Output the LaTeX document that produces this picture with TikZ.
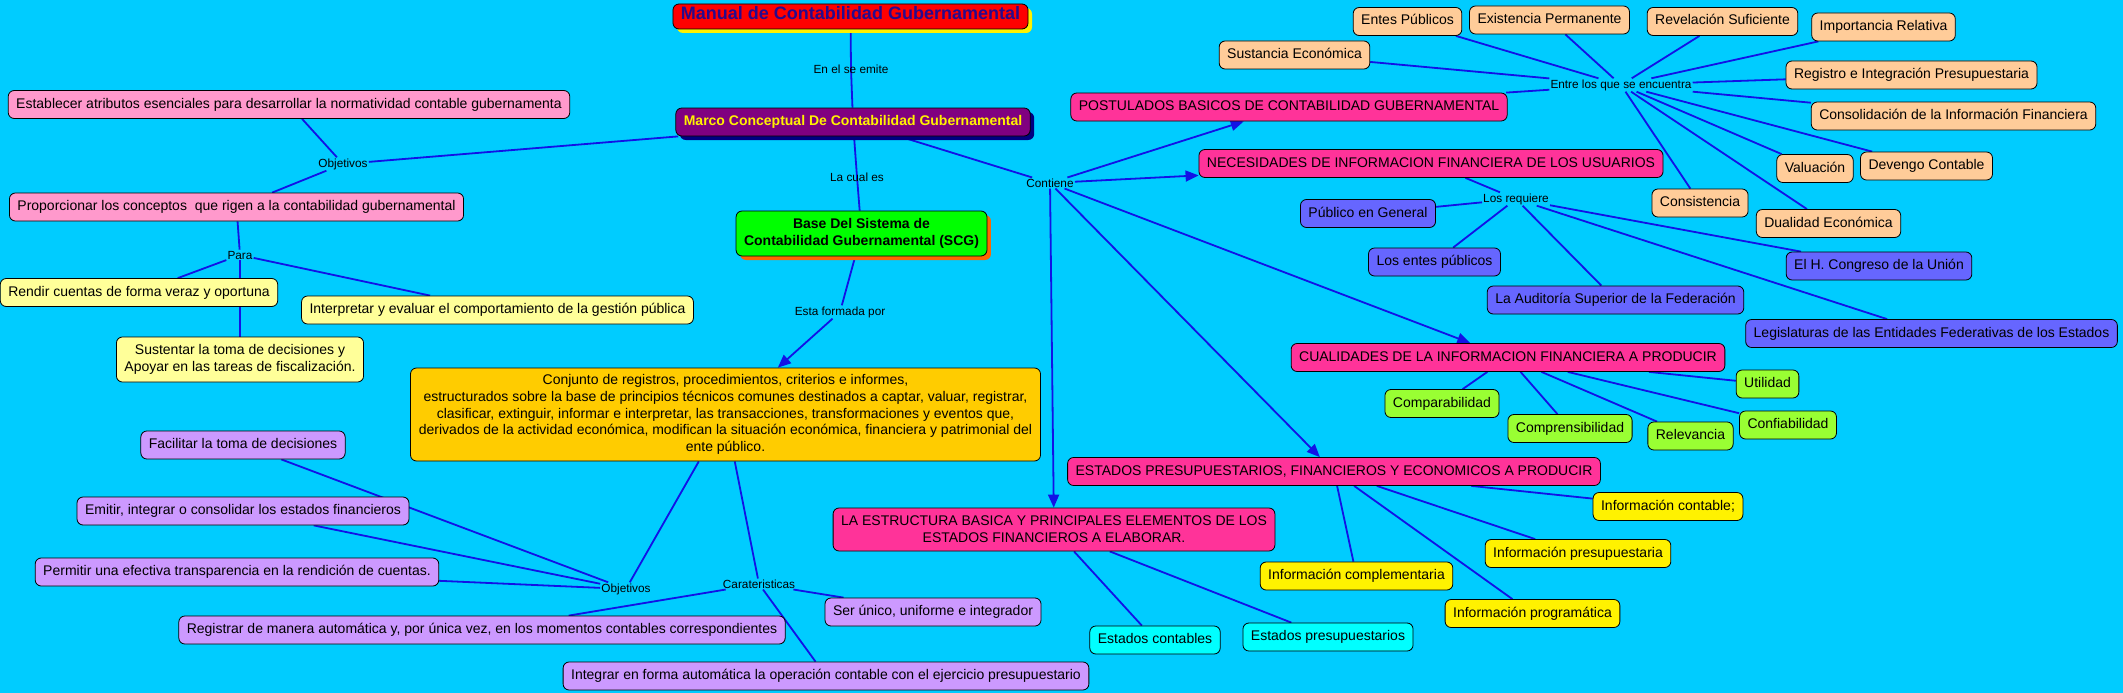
\documentclass[tikz,border=0pt]{standalone}
\usepackage{fontspec}
\setmainfont{Liberation Sans}
\usetikzlibrary{arrows.meta,shadows}
\pgfdeclarelayer{bg}
\pgfdeclarelayer{edges}
\pgfsetlayers{bg,edges,main}
\definecolor{sky}{RGB}{0,204,255}
\definecolor{linkblue}{RGB}{18,18,230}
\definecolor{pinkbox}{RGB}{255,153,204}
\definecolor{paleyel}{RGB}{255,255,153}
\definecolor{lilac}{RGB}{204,153,255}
\definecolor{gold}{RGB}{255,204,0}
\definecolor{hotpink}{RGB}{255,51,153}
\definecolor{peach}{RGB}{255,204,153}
\definecolor{violetbox}{RGB}{102,102,255}
\definecolor{lime}{RGB}{153,255,51}
\definecolor{aqua}{RGB}{0,255,255}
\definecolor{titleblue}{RGB}{40,10,140}
\begin{document}
\begin{tikzpicture}[x=1pt,y=-1pt,
  box/.style={draw=black,line width=0.8pt,rounded corners=6pt,inner xsep=8pt,inner ysep=7pt,
    text height=10.5pt,text depth=3.5pt,font=\fontsize{14}{16.7}\selectfont},
  tallbox/.style={draw=black,line width=0.8pt,rounded corners=6pt,inner xsep=8pt,inner ysep=3pt,
    align=center,font=\fontsize{14}{16.7}\selectfont},
  lbl/.style={inner sep=1pt,font=\fontsize{11.8}{13}\selectfont},
  link/.style={draw=linkblue,line width=1.8pt},
  >={Triangle[length=13pt,width=11pt]}]

\useasboundingbox (0,0) rectangle (2123,693);
\begin{pgfonlayer}{bg}
\fill [sky] (0,0) rectangle (2123,693);
\end{pgfonlayer}

% top of the map
\node (manual) at (850.5,16.5) [box,fill=red,text=titleblue,font=\fontsize{18}{20}\bfseries,inner ysep=5.5pt,
  drop shadow={shadow xshift=4pt,shadow yshift=-4pt,fill=yellow,opacity=1}] {Manual de Contabilidad Gubernamental};
\node (emite) at (851,69) [lbl] {En el se emite};
\node (marco) at (853,122) [box,fill=violet,text=yellow,font=\fontsize{14}{16.7}\bfseries,
  drop shadow={shadow xshift=4pt,shadow yshift=-4pt,fill=blue!50!black,opacity=1}] {Marco Conceptual De Contabilidad Gubernamental};
\node (cuales) at (857,177) [lbl] {La cual es};
\node (base) at (861.5,233.5) [tallbox,fill=green,font=\fontsize{14}{16.7}\bfseries,minimum height=45pt,
  drop shadow={shadow xshift=4pt,shadow yshift=-4pt,fill=orange!80!red,opacity=1}] {Base Del Sistema de\\Contabilidad Gubernamental (SCG)};
\node (formada) at (840,312) [lbl] {Esta formada por};
\node (conjunto) at (725.5,414.5) [tallbox,fill=gold,minimum height=93pt,minimum width=630pt] {Conjunto de registros, procedimientos, criterios e informes,\\estructurados sobre la base de principios técnicos comunes destinados a captar, valuar, registrar,\\clasificar, extinguir, informar e interpretar, las transacciones, transformaciones y eventos que,\\derivados de la actividad económica, modifican la situación económica, financiera y patrimonial del\\ente público.};

% objetivos del marco
\node (objtop) at (343,164) [lbl] {Objetivos};
\node (establecer) at (289,104.5) [box,fill=pinkbox] {Establecer atributos esenciales para desarrollar la normatividad contable gubernamenta};
\node (proporcionar) at (236.5,207) [box,fill=pinkbox] {Proporcionar los conceptos\ \ que rigen a la contabilidad gubernamental};
\node (para) at (240,255) [lbl] {Para};
\node (rendir) at (139,292.5) [box,fill=paleyel] {Rendir cuentas de forma veraz y oportuna};
\node (interpretar) at (497.5,310) [box,fill=paleyel] {Interpretar y evaluar el comportamiento de la gestión pública};
\node (sustentar) at (240,359.5) [tallbox,fill=paleyel,minimum height=45pt] {Sustentar la toma de decisiones y\\Apoyar en las tareas de fiscalización.};

% objetivos y caracteristicas del SCG
\node (objbot) at (626,589) [lbl] {Objetivos};
\node (carac) at (759,584) [lbl] {Carateristicas};
\node (facilitar) at (243,445) [box,fill=lilac] {Facilitar la toma de decisiones~};
\node (emitir) at (243,511) [box,fill=lilac] {Emitir, integrar o consolidar los estados financieros};
\node (permitir) at (237,572) [box,fill=lilac] {Permitir una efectiva transparencia en la rendición de cuentas.};
\node (registrar) at (482,630) [box,fill=lilac] {Registrar de manera automática y, por única vez, en los momentos contables correspondientes};
\node (integrar) at (826,676) [box,fill=lilac] {Integrar en forma automática la operación contable con el ejercicio presupuestario};
\node (serunico) at (933,612) [box,fill=lilac] {Ser único, uniforme e integrador};

% contenido del marco
\node (contiene) at (1050,183) [lbl] {Contiene};
\node (postulados) at (1289,107) [box,fill=hotpink] {POSTULADOS BASICOS DE CONTABILIDAD GUBERNAMENTAL};
\node (necesidades) at (1431,163.5) [box,fill=hotpink] {NECESIDADES DE INFORMACION FINANCIERA DE LOS USUARIOS};
\node (cualidades) at (1508,357.5) [box,fill=hotpink] {CUALIDADES DE LA INFORMACION FINANCIERA A PRODUCIR};
\node (estados) at (1334,471.5) [box,fill=hotpink] {ESTADOS PRESUPUESTARIOS, FINANCIEROS Y ECONOMICOS A PRODUCIR};
\node (estructura) at (1054,529.5) [tallbox,fill=hotpink,minimum height=43pt] {LA ESTRUCTURA BASICA Y PRINCIPALES ELEMENTOS DE LOS\\ESTADOS FINANCIEROS A ELABORAR.};

% postulados
\node (entre) at (1621,85) [lbl] {Entre los que se encuentra};
\node (entes) at (1407.5,21.5) [box,fill=peach] {Entes Públicos};
\node (existencia) at (1549.5,20) [box,fill=peach] {Existencia Permanente};
\node (revelacion) at (1722.5,21.5) [box,fill=peach] {Revelación Suficiente};
\node (importancia) at (1883.5,27) [box,fill=peach] {Importancia Relativa};
\node (registro) at (1911.5,75) [box,fill=peach] {Registro e Integración Presupuestaria};
\node (consolidacion) at (1953.5,116) [box,fill=peach] {Consolidación de la Información Financiera};
\node (sustancia) at (1294.5,55) [box,fill=peach] {Sustancia Económica};
\node (devengo) at (1926.5,166) [box,fill=peach] {Devengo Contable};
\node (valuacion) at (1815,168.5) [box,fill=peach] {Valuación};
\node (dualidad) at (1828.5,223.5) [box,fill=peach] {Dualidad Económica};
\node (consistencia) at (1700,203) [box,fill=peach] {Consistencia};

% usuarios
\node (requiere) at (1516,199) [lbl] {Los requiere};
\node (publico) at (1368,213.5) [box,fill=violetbox] {Público en General};
\node (entespub) at (1434.5,262) [box,fill=violetbox] {Los entes públicos};
\node (auditoria) at (1615.5,300) [box,fill=violetbox] {La Auditoría Superior de la Federación};
\node (congreso) at (1879,266) [box,fill=violetbox] {El H. Congreso de la Unión};
\node (legislaturas) at (1931.5,333.5) [box,fill=violetbox] {Legislaturas de las Entidades Federativas de los Estados};

% cualidades
\node (comparabilidad) at (1442,403.5) [box,fill=lime] {Comparabilidad};
\node (comprensibilidad) at (1570,428.5) [box,fill=lime] {Comprensibilidad};
\node (relevancia) at (1690.5,436) [box,fill=lime] {Relevancia};
\node (confiabilidad) at (1788,425) [box,fill=lime] {Confiabilidad};
\node (utilidad) at (1767.5,384) [box,fill=lime] {Utilidad};

% estados
\node (infcontable) at (1668,506.5) [box,fill=yellow] {Información contable;};
\node (infpresup) at (1578,553.5) [box,fill=yellow] {Información presupuestaria};
\node (infcomp) at (1356.5,576) [box,fill=yellow] {Información complementaria};
\node (infprog) at (1532.5,613.5) [box,fill=yellow] {Información programática};
\node (edoscont) at (1155,640) [box,fill=aqua] {Estados contables};
\node (edospresup) at (1328,637) [box,fill=aqua] {Estados presupuestarios};

\begin{pgfonlayer}{edges}
\draw [link] (manual) -- (emite.center) -- (marco);
\draw [link] (marco) -- (cuales.center) -- (base);
\draw [link] (base) -- (formada);
\draw [link,->] (formada) -- (conjunto);
\draw [link] (marco) -- (objtop);
\draw [link] (establecer) -- (objtop) -- (proporcionar);
\draw [link] (proporcionar) -- (para);
\draw [link] (para) -- (rendir);
\draw [link] (para) -- (interpretar);
\draw [link] (para) -- (sustentar);
\draw [link] (conjunto) -- (objbot);
\draw [link] (conjunto) -- (carac);
\foreach \n in {facilitar,emitir,permitir} \draw [link] (objbot) -- (\n);
\foreach \n in {registrar,integrar,serunico} \draw [link] (carac) -- (\n);
\draw [link] (marco) -- (contiene);
\foreach \n in {postulados,necesidades,cualidades,estados,estructura} \draw [link,->] (contiene) -- (\n);
\draw [link] (postulados) -- (entre);
\foreach \n in {entes,existencia,revelacion,importancia,registro,consolidacion,sustancia,devengo,valuacion,dualidad,consistencia}
  \draw [link] (entre) -- (\n);
\draw [link] (necesidades) -- (requiere);
\foreach \n in {publico,entespub,auditoria,congreso,legislaturas} \draw [link] (requiere) -- (\n);
\foreach \n in {comparabilidad,comprensibilidad,relevancia,confiabilidad,utilidad} \draw [link] (cualidades) -- (\n);
\foreach \n in {infcontable,infpresup,infcomp,infprog} \draw [link] (estados) -- (\n);
\foreach \n in {edoscont,edospresup} \draw [link] (estructura) -- (\n);
\end{pgfonlayer}

\end{tikzpicture}
\end{document}
